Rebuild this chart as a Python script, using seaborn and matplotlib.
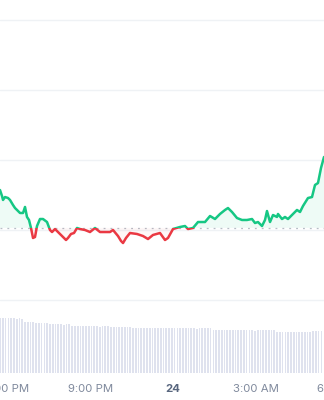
import numpy as np
import pandas as pd
import matplotlib
matplotlib.use("Agg")
import matplotlib.pyplot as plt
from matplotlib.patches import Rectangle
import seaborn as sns

# ---- data ----
hours = [-0.253, -0.181, -0.144, -0.072, 0.036, 0.108, 0.217, 0.289, 0.361, 0.469,
         0.578, 0.650, 0.722, 0.794, 0.866, 0.939, 1.011, 1.083, 1.191, 1.300,
         1.444, 1.552, 1.625, 1.733, 1.841, 1.986, 2.130, 2.202, 2.310, 2.419,
         2.527, 2.635, 2.816, 2.996, 3.177, 3.357, 3.538, 3.718, 3.827, 4.007,
         4.116, 4.188, 4.296, 4.440, 4.693, 4.910, 5.090, 5.271, 5.523, 5.704,
         5.812, 5.993, 6.245, 6.426, 6.534, 6.715, 6.895, 6.968, 7.148, 7.329,
         7.509, 7.690, 7.870, 7.978, 8.123, 8.303, 8.484, 8.664, 8.845, 8.953,
         9.061, 9.206, 9.314, 9.386, 9.495, 9.603, 9.747, 9.783, 9.928, 10.036,
         10.144, 10.325, 10.469, 10.578, 10.686, 10.866, 11.011, 11.119, 11.227, 11.336,
         11.444]
price = [105.71, 104.86, 104.29, 104.71, 104.57, 104.29, 103.57, 103.14, 102.86, 102.43,
         102.43, 103.29, 101.86, 101.43, 100.29, 98.86, 99.00, 100.57, 101.57, 101.57,
         101.14, 100.00, 99.71, 100.14, 99.71, 99.14, 98.57, 98.86, 99.43, 99.57,
         100.29, 100.14, 100.00, 99.71, 100.29, 99.71, 99.71, 99.71, 100.00, 99.14,
         98.43, 98.14, 98.86, 99.57, 99.43, 99.14, 98.71, 99.29, 99.57, 98.57,
         98.86, 100.14, 100.43, 100.57, 100.14, 100.29, 101.14, 101.14, 101.14, 102.00,
         101.57, 102.29, 102.86, 103.14, 102.57, 101.71, 101.43, 101.43, 101.57, 101.00,
         101.14, 100.57, 101.43, 102.71, 101.14, 102.14, 101.86, 102.29, 101.57, 101.86,
         101.57, 102.29, 102.86, 102.57, 103.43, 104.57, 104.71, 106.43, 106.71, 108.86,
         110.43]
baseline = 100.3

vol_start, vol_step = -0.25, 0.1
volume = [55, 55, 55, 55.5, 55, 55, 54.5, 55, 54, 51.5,
          51, 51, 51, 50.5, 50, 50, 50, 50, 49, 49,
          49, 49, 49, 48.5, 49, 49, 47, 47, 47, 47,
          47, 47.5, 47, 47, 47, 47, 46.5, 47, 47, 47,
          46, 46, 46, 46, 46, 46, 46, 46, 45, 45,
          45, 45, 45, 45.5, 45, 45, 45, 45, 45, 45,
          45, 45, 45, 45, 45, 45, 45, 45, 45, 45,
          45, 44.5, 45, 45, 45, 45, 45, 43, 43, 43,
          43, 43, 43, 43, 43, 43, 43, 43, 43, 43,
          43, 43, 42.5, 43, 43, 43, 43, 43, 43, 43,
          41, 41, 41, 41, 41, 41, 41, 41, 41, 41,
          41, 41, 41, 42, 42, 42.5, 42]

tick_pos = [0, 3, 6, 9, 12]
tick_labels = ["6:00 PM", "9:00 PM", "24", "3:00 AM", "6:00 AM"]
grid_levels = [90, 100, 110, 120, 130]

GREEN = "#16c784"
RED = "#ea3943"
GRID = "#eff2f5"
TXT = "#808a9d"

df = pd.DataFrame({"t": hours, "p": price})
vt = vol_start + vol_step * np.arange(len(volume))

sns.set_theme(style="white")
plt.rcParams["font.family"] = ["Inter", "DejaVu Sans"]

fig = plt.figure(figsize=(3.24, 4.0), dpi=100)
ax = fig.add_axes([0, 27 / 400, 1, 373 / 400])
axv = ax.twinx()
axv.set_zorder(0)
ax.set_zorder(1)
ax.patch.set_visible(False)

xmin, xmax = -0.253, 11.444
# volume
axv.bar(vt, volume, width=0.062, color="#dfe2ee", align="center", linewidth=0)
axv.set_ylim(0, 373)
axv.set_yticks([])

# price
ylo, yhi = 79.571, 132.857
for g in grid_levels:
    ax.axhline(g, color=GRID, lw=1.0, zorder=0)
ax.axhline(baseline, color="#b7bdc6", lw=0.9, ls=(0, (1.5, 4)), zorder=1)

p = np.array(price)
t = np.array(hours)
ax.fill_between(t, p, baseline, where=p >= baseline, interpolate=True,
                color=GREEN, alpha=0.07, lw=0, zorder=1)
ax.fill_between(t, p, baseline, where=p <= baseline, interpolate=True,
                color=RED, alpha=0.04, lw=0, zorder=1)

sns.lineplot(data=df, x="t", y="p", ax=ax, color=GREEN, lw=1.8, zorder=3)
sns.lineplot(data=df, x="t", y="p", ax=ax, color=RED, lw=1.8, zorder=3)
lines = ax.get_lines()[-2:]
clip_up = Rectangle((xmin - 1, baseline), xmax - xmin + 2, yhi - baseline, transform=ax.transData)
clip_dn = Rectangle((xmin - 1, ylo), xmax - xmin + 2, baseline - ylo, transform=ax.transData)
lines[0].set_clip_path(clip_up)
lines[1].set_clip_path(clip_dn)

ax.set_yticks([])
ax.set_xlabel("")
ax.set_ylabel("")
ax.set_xticks(tick_pos)
ax.set_xticklabels(tick_labels)
ax.set_xlim(xmin, xmax)
ax.set_ylim(ylo, yhi)
ax.tick_params(axis="x", length=0, pad=8, labelsize=8.2, labelcolor=TXT)
for lbl in ax.get_xticklabels():
    if lbl.get_text() == "24":
        lbl.set_fontweight("bold")
        lbl.set_color("#58667e")
# tick label beyond the right edge (only partly visible, as in the source)
for pos, lab in zip(tick_pos, tick_labels):
    if pos > xmax:
        ax.annotate(lab, xy=(pos, 0), xycoords=("data", "axes fraction"),
                    xytext=(0, -8), textcoords="offset points",
                    ha="center", va="top", fontsize=8.2, color=TXT,
                    annotation_clip=False)
axv.tick_params(axis="x", length=0)
for a in (ax, axv):
    for s in a.spines.values():
        s.set_visible(False)

fig.savefig("out.png", dpi=100)
